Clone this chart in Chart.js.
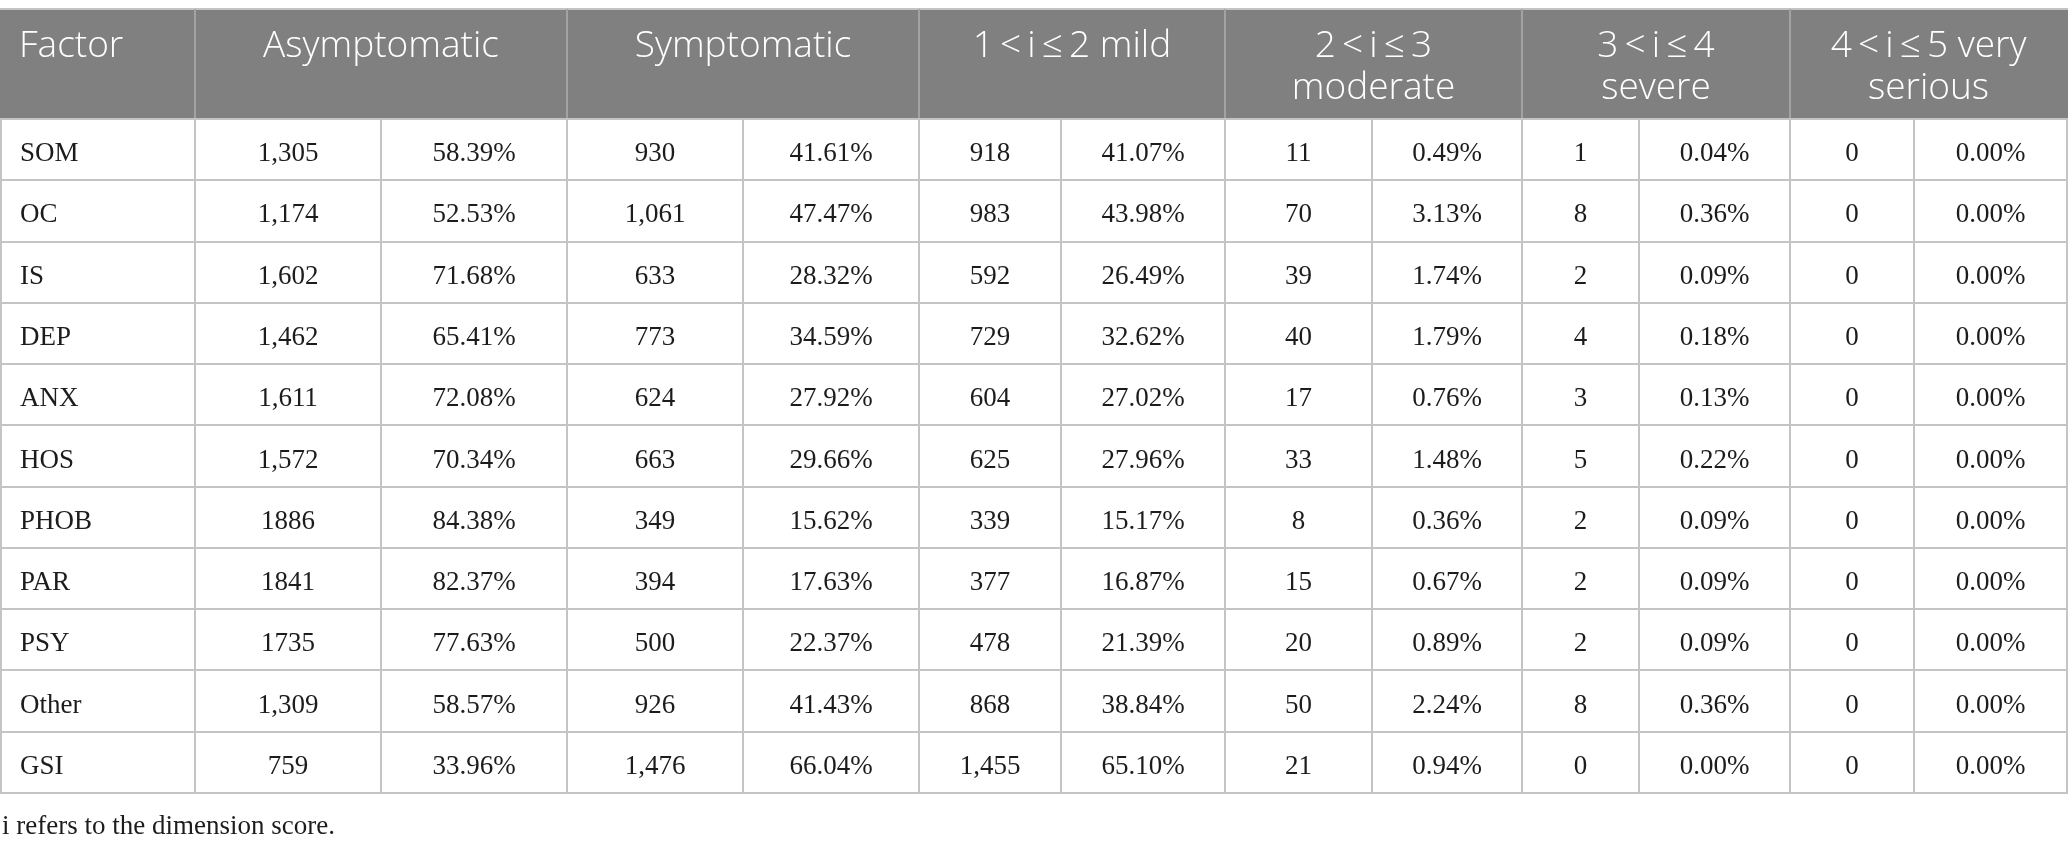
<!DOCTYPE html>
<html>
<head>
<meta charset="utf-8">
<script src="https://cdn.jsdelivr.net/npm/chart.js"></script>
<style>
html, body { margin: 0; padding: 0; background: #fff; }
#caixa { width: 2068px; height: 850px; position: relative; }
#erro { position: absolute; left: 10px; top: 10px; color: red; font: 20px sans-serif; }
</style>
</head>
<body>
<div id="caixa"><canvas id="tabela_fatores"></canvas></div>
<div id="erro"></div>
<script>
window.onerror = function(msg) { document.getElementById('erro').textContent = 'ERRO: ' + msg; };
</script>
<script>
// dados da tabela
const factors  = ['SOM', 'OC', 'IS', 'DEP', 'ANX', 'HOS', 'PHOB', 'PAR', 'PSY', 'Other', 'GSI'];
const asymN    = ['1,305', '1,174', '1,602', '1,462', '1,611', '1,572', '1886', '1841', '1735', '1,309', '759'];
const asymPct  = ['58.39%', '52.53%', '71.68%', '65.41%', '72.08%', '70.34%', '84.38%', '82.37%', '77.63%', '58.57%', '33.96%'];
const symN     = ['930', '1,061', '633', '773', '624', '663', '349', '394', '500', '926', '1,476'];
const symPct   = ['41.61%', '47.47%', '28.32%', '34.59%', '27.92%', '29.66%', '15.62%', '17.63%', '22.37%', '41.43%', '66.04%'];
const mildN    = ['918', '983', '592', '729', '604', '625', '339', '377', '478', '868', '1,455'];
const mildPct  = ['41.07%', '43.98%', '26.49%', '32.62%', '27.02%', '27.96%', '15.17%', '16.87%', '21.39%', '38.84%', '65.10%'];
const modN     = ['11', '70', '39', '40', '17', '33', '8', '15', '20', '50', '21'];
const modPct   = ['0.49%', '3.13%', '1.74%', '1.79%', '0.76%', '1.48%', '0.36%', '0.67%', '0.89%', '2.24%', '0.94%'];
const sevN     = ['1', '8', '2', '4', '3', '5', '2', '2', '2', '8', '0'];
const sevPct   = ['0.04%', '0.36%', '0.09%', '0.18%', '0.13%', '0.22%', '0.09%', '0.09%', '0.09%', '0.36%', '0.00%'];
const vsN      = ['0', '0', '0', '0', '0', '0', '0', '0', '0', '0', '0'];
const vsPct    = ['0.00%', '0.00%', '0.00%', '0.00%', '0.00%', '0.00%', '0.00%', '0.00%', '0.00%', '0.00%', '0.00%'];
const headers  = [['Factor'], ['Asymptomatic'], ['Symptomatic'], ['1\u2009<\u2009i\u2009\u2264\u20092 mild'],
                  ['2\u2009<\u2009i\u2009\u2264\u20093', 'moderate'], ['3\u2009<\u2009i\u2009\u2264\u20094', 'severe'],
                  ['4\u2009<\u2009i\u2009\u2264\u20095 very', 'serious']];
const footnote = 'i refers to the dimension score.';

const colunas = [factors, asymN, asymPct, symN, symPct, mildN, mildPct, modN, modPct, sevN, sevPct, vsN, vsPct];

// layout (unidades do eixo x = pixels)
const bordas = [1, 195, 381, 567, 743, 919, 1061, 1225, 1372, 1522, 1639, 1790, 1914, 2067];
const grupos = [[0, 1], [1, 3], [3, 5], [5, 7], [7, 9], [9, 11], [11, 13]];
const topoCab = 9;

const datasets = colunas.map((col, c) => ({
    label: 'col' + c,
    data: col.map((v, i) => ({
        x: c == 0 ? bordas[0] + 19 : (bordas[c] + bordas[c + 1]) / 2,
        y: i
    })),
    pointRadius: 0,
    showLine: false
}));

const desenhaTabela = {
    id: 'desenhaTabela',
    afterDraw(chart) {
        const ctx = chart.ctx;
        const xs = chart.scales.x, ys = chart.scales.y;
        const area = chart.chartArea;
        const passo = ys.getPixelForValue(1) - ys.getPixelForValue(0);
        const xp = v => xs.getPixelForValue(v);
        ctx.save();

        // cabeçalho
        ctx.fillStyle = '#7f807f';
        ctx.fillRect(xp(0), topoCab, xp(2068) - xp(0), area.top - topoCab);
        ctx.strokeStyle = '#c4c4c4';
        ctx.lineWidth = 2;
        ctx.beginPath();
        ctx.moveTo(xp(0), topoCab); ctx.lineTo(xp(2068), topoCab);
        ctx.stroke();
        ctx.strokeStyle = '#a3a3a3';
        ctx.beginPath();
        grupos.slice(1).forEach(g => {
            const x = Math.round(xp(bordas[g[0]]));
            ctx.moveTo(x, topoCab); ctx.lineTo(x, area.top);
        });
        ctx.stroke();

        ctx.fillStyle = '#ffffff';
        ctx.font = '300 37px "Open Sans"';
        ctx.textBaseline = 'alphabetic';
        headers.forEach((linhas, h) => {
            const g = grupos[h];
            linhas.forEach((t, k) => {
                const y = 57 + k * 42;
                if (h == 0) {
                    ctx.textAlign = 'left';
                    ctx.fillText(t, xp(bordas[0] + 18), y);
                } else {
                    ctx.textAlign = 'center';
                    ctx.fillText(t, (xp(bordas[g[0]]) + xp(bordas[g[1]])) / 2, y);
                }
            });
        });

        // grade do corpo
        ctx.strokeStyle = '#c4c4c4';
        ctx.lineWidth = 2;
        ctx.beginPath();
        for (let i = 0; i <= factors.length; i++) {
            const y = Math.round(ys.getPixelForValue(i) - passo / 2);
            ctx.moveTo(xp(0), y); ctx.lineTo(xp(2068), y);
        }
        bordas.forEach(b => {
            const x = Math.round(xp(b));
            ctx.moveTo(x, area.top); ctx.lineTo(x, area.bottom);
        });
        ctx.stroke();

        // valores
        ctx.fillStyle = '#1c1c1c';
        ctx.font = '27px "Liberation Serif"';
        chart.data.datasets.forEach((ds, c) => {
            const meta = chart.getDatasetMeta(c);
            ctx.textAlign = c == 0 ? 'left' : 'center';
            meta.data.forEach((pt, i) => {
                ctx.fillText(colunas[c][i], pt.x, pt.y + 11.5);
            });
        });

        // nota
        ctx.textAlign = 'left';
        ctx.fillText(footnote, xp(2), 834);
        ctx.restore();
    }
};

const config = {
    type: 'scatter',
    data: { datasets: datasets },
    options: {
        responsive: true,
        maintainAspectRatio: false,
        animation: false,
        events: [],
        layout: { padding: { top: 119, bottom: 57, left: 0, right: 0 } },
        plugins: { legend: { display: false }, tooltip: { enabled: false } },
        scales: {
            x: { type: 'linear', min: 0, max: 2068, display: false },
            y: { type: 'category', labels: factors, offset: true, display: false }
        }
    },
    plugins: [desenhaTabela]
};
new Chart(document.getElementById('tabela_fatores').getContext('2d'), config);
</script>
</body>
</html>
